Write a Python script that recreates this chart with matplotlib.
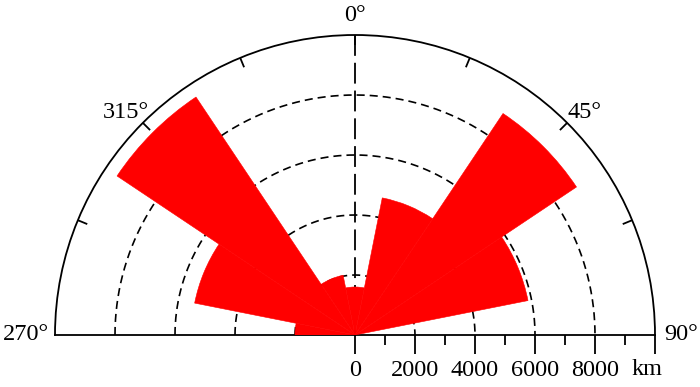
import numpy as np
import matplotlib
matplotlib.use("Agg")
import matplotlib.pyplot as plt
import matplotlib.transforms as mtransforms

plt.rcParams['font.family'] = ['Liberation Serif', 'DejaVu Serif']
plt.rcParams['lines.scale_dashes'] = False

# direction bins (degrees, clockwise from north) and lengths (km)
directions = [270, 292.5, 315, 337.5, 0, 22.5, 45, 67.5, 90]
lengths = [2000, 5450, 9540, 2030, 1600, 4660, 8880, 5880, 0]
bin_width = 22.5

rings = [2000, 4000, 6000, 8000]
r_max = 10000
scale_ticks = [0, 2000, 4000, 6000, 8000, 10000]
scale_labels = ['0', '2000', '4000', '6000', '8000', '']
angle_labels = {0: '0°', 45: '45°', -45: '315°'}

W, H = 700, 387
fig = plt.figure(figsize=(W / 100, H / 100), dpi=100)

# half rose: centre at (355, 335) px, radius 300 px
# (a polar wedge is fitted into a square box, so the box is 2R x 2R)
cx, cy, R = 355, 335, 300
ax = fig.add_axes([(cx - R) / W, (H - cy - R / 2) / H, 2 * R / W, 2 * R / H],
                  projection='polar')
ax.set_theta_zero_location('N')
ax.set_theta_direction(-1)
ax.set_thetamin(-90)
ax.set_thetamax(90)
ax.set_ylim(0, r_max)
ax.grid(False)
ax.set_xticks([])
ax.set_yticks([])
for s in ax.spines.values():
    s.set_linewidth(1.3)
    s.set_color('black')

theta = np.deg2rad([((d + 180) % 360) - 180 for d in directions])
ax.bar(theta, lengths, width=np.deg2rad(bin_width), color='#ff0000',
       edgecolor='#ff0000', linewidth=0.4, align='center', zorder=3)

t = np.linspace(-np.pi / 2, np.pi / 2, 400)
for r in rings:
    ax.plot(t, np.full_like(t, r), color='black', lw=1.2,
            linestyle=(0, (5.8, 3.6)), zorder=1)

# north line
ax.plot([0, 0], [r_max, 0], color='black', lw=1.3,
        linestyle=(0, (15, 5)), zorder=1)

# ticks on the outer arc
for a in np.arange(-67.5, 68, 22.5):
    ax.plot([np.deg2rad(a)] * 2, [r_max, r_max - 340], color='black',
            lw=1.3, zorder=2, solid_capstyle='butt')

for a, txt in angle_labels.items():
    ax.text(np.deg2rad(a * 1.02), 10650, txt, ha='center', va='center',
            fontsize=17.5)
ax.text(np.deg2rad(-90), 10200, '270°', ha='right', va='center', fontsize=17.5)
ax.text(np.deg2rad(90), 10300, '90°', ha='left', va='center', fontsize=17.5)

# distance scale under the baseline
ax2 = fig.add_axes([cx / W, (H - cy) / H, R / W, 0.0001])
ax2.set_xlim(0, r_max)
for s in ax2.spines.values():
    s.set_visible(False)
ax2.patch.set_visible(False)
ax2.set_yticks([])
ax2.set_xticks(scale_ticks)
ax2.set_xticklabels(scale_labels, fontsize=17.5)
ax2.set_xticks(np.arange(1000, r_max, 2000), minor=True)
ax2.tick_params(axis='x', which='major', direction='out', length=14,
                width=1.3, pad=4)
ax2.tick_params(axis='x', which='minor', direction='out', length=7, width=1.3)
ax2.annotate('km', xy=(r_max - 260, 0),
             xycoords=mtransforms.blended_transform_factory(ax2.transData, ax2.transAxes),
             xytext=(0, -28.5), textcoords='offset points',
             ha='center', va='baseline', fontsize=17.5)

fig.savefig('out.png', dpi=100)
